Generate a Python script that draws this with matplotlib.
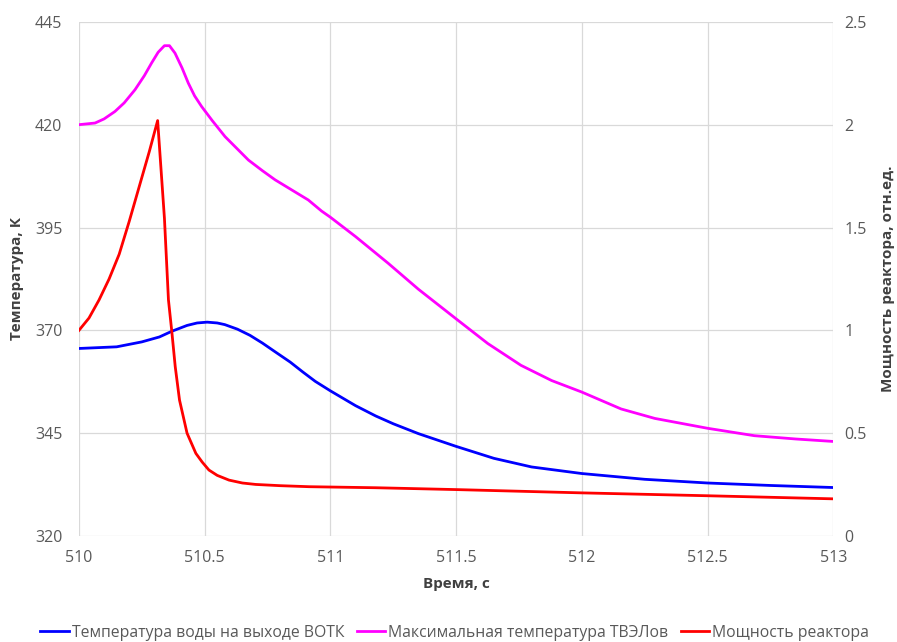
import matplotlib.pyplot as plt

# time, s / outlet water temperature, K
t_water = [510.0, 510.15, 510.25, 510.32, 510.37, 510.43, 510.47, 510.51, 510.55, 510.58,
           510.63, 510.68, 510.73, 510.78, 510.84, 510.89, 510.94, 511.0, 511.1, 511.18,
           511.25, 511.35, 511.5, 511.65, 511.8, 512.0, 512.25, 512.5, 512.75, 513.0]
T_water = [365.6, 366.0, 367.2, 368.4, 369.8, 371.2, 371.8, 372.0, 371.8, 371.4,
           370.3, 368.8, 366.9, 364.8, 362.3, 359.9, 357.6, 355.3, 351.7, 349.2,
           347.3, 344.9, 341.8, 338.9, 336.8, 335.2, 333.8, 332.9, 332.3, 331.8]

# max fuel temperature, K
t_fuel = [510.0, 510.064, 510.1, 510.143, 510.18, 510.223, 510.26, 510.289, 510.315, 510.34,
          510.36, 510.382, 510.41, 510.435, 510.46, 510.488, 510.53, 510.581, 510.63, 510.674,
          510.73, 510.78, 510.85, 510.912, 510.965, 511.0, 511.1, 511.23, 511.35, 511.5,
          511.626, 511.758, 511.88, 512.0, 512.156, 512.29, 512.5, 512.686, 512.85, 513.0]
T_fuel = [420.0, 420.4, 421.4, 423.2, 425.3, 428.5, 431.9, 435.0, 437.6, 439.2,
          439.2, 437.4, 433.8, 430.1, 427.0, 424.4, 421.0, 417.1, 414.1, 411.4,
          408.8, 406.6, 404.0, 401.7, 399.0, 397.5, 392.8, 386.3, 380.0, 372.8,
          366.8, 361.5, 357.8, 355.0, 350.9, 348.6, 346.2, 344.4, 343.6, 343.0]

# reactor power, rel. units
t_power = [510.0, 510.04, 510.08, 510.12, 510.16, 510.2, 510.24, 510.28, 510.313, 510.34,
           510.356, 510.37, 510.383, 510.4, 510.43, 510.465, 510.49, 510.517, 510.55, 510.597,
           510.65, 510.703, 510.8, 510.915, 511.18, 511.5, 512.0, 512.5, 513.0]
power = [1.0, 1.06, 1.148, 1.25, 1.37, 1.53, 1.70, 1.87, 2.02, 1.545,
         1.148, 0.986, 0.823, 0.661, 0.50, 0.402, 0.36, 0.321, 0.295, 0.272,
         0.258, 0.251, 0.245, 0.240, 0.235, 0.226, 0.210, 0.196, 0.181]

x_ticks = [510, 510.5, 511, 511.5, 512, 512.5, 513]
x_labels = ['510', '510.5', '511', '511.5', '512', '512.5', '513']
left_ticks = [320, 345, 370, 395, 420, 445]
right_ticks = [0, 0.5, 1, 1.5, 2, 2.5]
right_labels = ['0', '0.5', '1', '1.5', '2', '2.5']

plt.rcParams['font.family'] = ['Open Sans', 'DejaVu Sans']
grey = '#595959'
grid_c = '#d9d9d9'

fig = plt.figure(figsize=(8.97, 6.42), dpi=100)
ax = fig.add_axes([0.088, 0.165, 0.841, 0.801])
ax2 = ax.twinx()

l1, = ax.plot(t_water, T_water, color='#0000ff', lw=2.0, label='Температура воды на выходе ВОТК')
l2, = ax.plot(t_fuel, T_fuel, color='#ff00ff', lw=2.0, label='Максимальная температура ТВЭЛов')
l3, = ax2.plot(t_power, power, color='#ff0000', lw=2.0, label='Мощность реактора')

ax.set_xlim(510, 513)
ax.set_ylim(320, 445)
ax2.set_ylim(0, 2.5)
ax.set_xticks(x_ticks)
ax.set_xticklabels(x_labels)
ax.set_yticks(left_ticks)
ax2.set_yticks(right_ticks)
ax2.set_yticklabels(right_labels)

ax.grid(True, color=grid_c, lw=0.9)
ax.set_axisbelow(True)
for a in (ax, ax2):
    for s in a.spines.values():
        s.set_visible(False)
    a.tick_params(length=0, labelsize=11.5, colors=grey, pad=8)
ax.tick_params(axis='y', pad=12)
ax.tick_params(axis='x', pad=10)

ax.set_xlabel('Время, с', fontsize=11, fontweight='bold', color='#404040', labelpad=8)
ax.set_ylabel('Температура, К', fontsize=11, fontweight='bold', color='#404040', labelpad=8)
ax2.set_ylabel('Мощность реактора, отн.ед.', fontsize=11, fontweight='bold', color='#404040', labelpad=10)

fig.legend(handles=[l1, l2, l3], loc='lower center', bbox_to_anchor=(0.507, -0.02), ncol=3,
           frameon=False, fontsize=11.3, handlelength=1.8, handletextpad=0.2, columnspacing=0.8,
           labelcolor=grey)

fig.savefig('out.png', dpi=100)
